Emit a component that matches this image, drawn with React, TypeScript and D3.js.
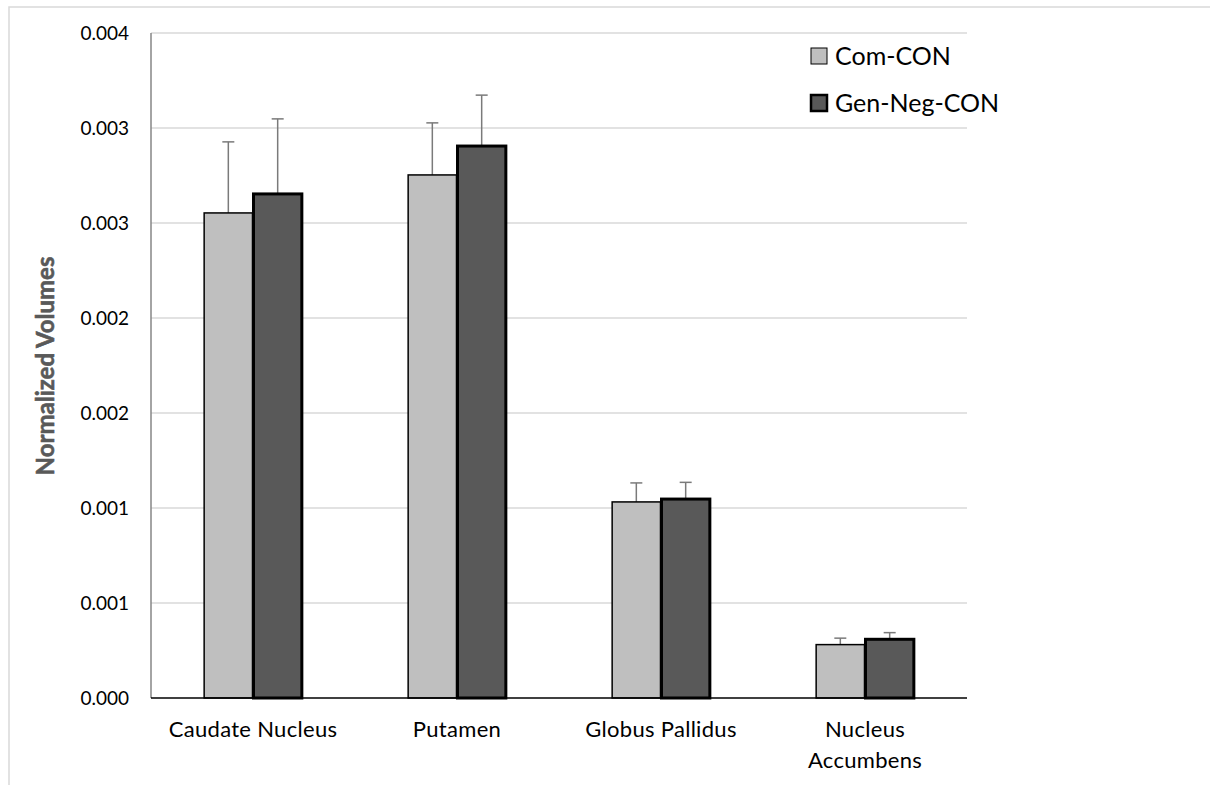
import React from "react";
import * as d3 from "d3";

const categories: string[][] = [
  ["Caudate Nucleus"],
  ["Putamen"],
  ["Globus Pallidus"],
  ["Nucleus", "Accumbens"],
];
const seriesNames = ["Com-CON", "Gen-Neg-CON"];
const comCon = [0.002553, 0.002753, 0.001032, 0.000281];
const comConErr = [0.000374, 0.000274, 0.0001, 0.000034];
const genNegCon = [0.002653, 0.002905, 0.001047, 0.000309];
const genNegConErr = [0.000395, 0.000268, 0.000088, 0.000035];
const yTicks = [0, 0.0005, 0.001, 0.0015, 0.002, 0.0025, 0.003, 0.0035];
const yTickLabels = ["0.000", "0.001", "0.001", "0.002", "0.002", "0.003", "0.003", "0.004"];

const W = 1210;
const H = 785;
const left = 151;
const right = 967;
const top = 33;
const bottom = 698;
const font = "Lato, 'Open Sans', sans-serif";

const fills = ["#bfbfbf", "#595959"];
const strokeWidths = [1.5, 3];

export default function App() {
  const y = d3.scaleLinear().domain([0, 0.0035]).range([bottom, top]);
  const x = d3
    .scaleBand<number>()
    .domain(categories.map((_, i) => i))
    .range([left, right]);
  const barW = x.bandwidth() * 0.237;
  const series = [
    { values: comCon, errs: comConErr },
    { values: genNegCon, errs: genNegConErr },
  ];

  return (
    <svg
      width={W}
      height={H}
      style={{ position: "absolute", left: 0, top: 0, background: "#fff" }}
      fontFamily={font}
    >
      {/* chart frame (runs past the right and bottom edges) */}
      <rect x={9} y={7} width={1260} height={820} fill="#fff" stroke="#d9d9d9" strokeWidth={1.5} />
      {/* gridlines */}
      {yTicks.map((t) =>
        t === 0 ? null : (
          <line key={t} x1={left} x2={right} y1={y(t)} y2={y(t)} stroke="#d9d9d9" strokeWidth={1.5} />
        )
      )}
      {/* y tick labels */}
      {yTicks.map((t, i) => (
        <text key={"l" + t} x={129} y={y(t)} dy="0.36em" textAnchor="end" fontSize={19} fill="#000">
          {yTickLabels[i]}
        </text>
      ))}
      <line x1={left} x2={left} y1={top} y2={bottom} stroke="#868686" strokeWidth={1.5} />
      {/* bars with error bars */}
      {series.map((s, si) =>
        s.values.map((v, ci) => {
          const cx = (x(ci) as number) + x.bandwidth() / 2;
          const bx = si === 0 ? cx - barW - 0.5 : cx + 0.5;
          const mid = bx + barW / 2;
          const yTop = y(v);
          const yErr = y(v + s.errs[ci]);
          return (
            <g key={si + "-" + ci}>
              <line x1={mid} x2={mid} y1={yTop} y2={yErr} stroke="#7a7a7a" strokeWidth={1.5} />
              <line x1={mid - 6} x2={mid + 6} y1={yErr} y2={yErr} stroke="#7a7a7a" strokeWidth={1.5} />
              <rect
                x={bx}
                y={yTop}
                width={barW}
                height={bottom - yTop}
                fill={fills[si]}
                stroke="#000"
                strokeWidth={strokeWidths[si]}
              />
            </g>
          );
        })
      )}
      <line x1={left} x2={right} y1={bottom} y2={bottom} stroke="#000" strokeWidth={1.5} />
      {/* category labels */}
      {categories.map((lines, ci) => (
        <text
          key={"c" + ci}
          x={(x(ci) as number) + x.bandwidth() / 2}
          y={737}
          textAnchor="middle"
          fontSize={22}
          letterSpacing={0.3}
          fill="#000"
        >
          {lines.map((ln, li) => (
            <tspan key={li} x={(x(ci) as number) + x.bandwidth() / 2} dy={li === 0 ? 0 : 31}>
              {ln}
            </tspan>
          ))}
        </text>
      ))}
      {/* y axis title */}
      <text
        transform={`translate(54,366) rotate(-90)`}
        textAnchor="middle"
        fontSize={24}
        fontWeight={700}
        fill="#595959"
        stroke="#595959"
        strokeWidth={0.6}
      >
        Normalized Volumes
      </text>
      {/* legend */}
      {seriesNames.map((name, i) => (
        <g key={name} transform={`translate(811,${48 + i * 47})`}>
          <rect
            x={0}
            y={0}
            width={16}
            height={16}
            fill={fills[i]}
            stroke="#000"
            strokeWidth={i === 0 ? 1 : 2.5}
          />
          <text x={24} y={17} fontSize={25} fill="#000">
            {name}
          </text>
        </g>
      ))}
    </svg>
  );
}
